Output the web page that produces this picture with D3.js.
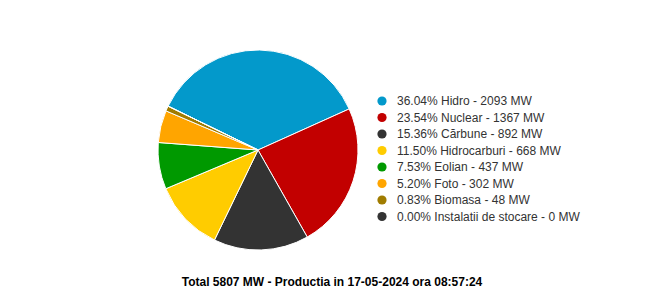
<!DOCTYPE html>
<html>
<head>
<meta charset="utf-8">
<script src="https://cdn.jsdelivr.net/npm/d3@7"></script>
<style>
  body { margin: 0; background: #fff; }
  text { font-family: "Liberation Sans", Arial, sans-serif; }
</style>
</head>
<body>
<svg id="chart" width="652" height="297"></svg>
<script>
// production data, MW
const sources = ['Hidro', 'Nuclear', 'Cărbune', 'Hidrocarburi', 'Eolian', 'Foto', 'Biomasa', 'Instalatii de stocare'];
const values = [2093, 1367, 892, 668, 437, 302, 48, 0];
const percents = ['36.04', '23.54', '15.36', '11.50', '7.53', '5.20', '0.83', '0.00'];
const colors = ['#0399cb', '#c20000', '#333333', '#ffcc00', '#009900', '#ffa500', '#a07c00', '#333333'];
const titleText = 'Total 5807 MW - Productia in 17-05-2024 ora 08:57:24';

const svg = d3.select('#chart');
const cx = 258, cy = 150, radius = 100;

const items = sources.map((s, i) => ({ name: s, value: values[i], pct: percents[i], color: colors[i] }));

const pie = d3.pie()
    .value(d => d.value)
    .sort(null)
    .startAngle(-64 * Math.PI / 180)
    .endAngle(296 * Math.PI / 180);

const arc = d3.arc().innerRadius(0).outerRadius(radius);

svg.append('g')
    .attr('transform', `translate(${cx},${cy})`)
    .selectAll('path')
    .data(pie(items))
    .enter().append('path')
    .attr('d', arc)
    .attr('fill', d => d.data.color)
    .attr('stroke', '#ffffff')
    .attr('stroke-width', 1);

// legend
const legendY = d3.scalePoint()
    .domain(sources)
    .range([101, 216.5]);

const legend = svg.append('g');
const rows = legend.selectAll('g')
    .data(items)
    .enter().append('g')
    .attr('transform', d => `translate(0,${legendY(d.name)})`);

rows.append('circle')
    .attr('cx', 382)
    .attr('cy', 0)
    .attr('r', 4.6)
    .attr('fill', d => d.color);

rows.append('text')
    .attr('x', 397)
    .attr('y', 0)
    .attr('dy', '0.35em')
    .attr('font-size', '12px')
    .attr('fill', '#333333')
    .text(d => `${d.pct}% ${d.name} - ${d.value} MW`);

svg.append('text')
    .attr('x', 332)
    .attr('y', 286)
    .attr('text-anchor', 'middle')
    .attr('font-size', '12px')
    .attr('font-weight', 'bold')
    .attr('fill', '#000000')
    .text(titleText);
</script>
</body>
</html>
